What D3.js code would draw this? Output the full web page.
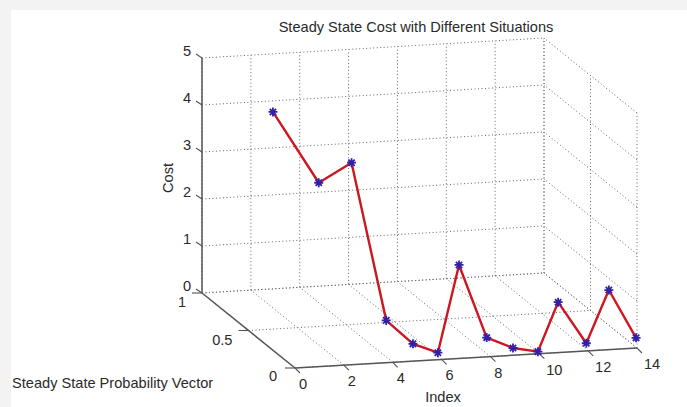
<!DOCTYPE html>
<html>
<head>
<meta charset="utf-8">
<script src="https://cdn.jsdelivr.net/npm/d3@7"></script>
<style>
  body { margin: 0; background: #fff; }
  text { font-family: "Liberation Sans", Arial, sans-serif; fill: #2a2a2a; }
</style>
</head>
<body>
<div id="chart"></div>
<script>
var svgWidth = 687;
var svgHeight = 407;

// data
var indexVals = [1, 2, 3, 4, 5, 6, 7, 8, 9, 10, 11, 12, 13, 14];
var probVals = [0.50, 0.27, 0.18, 0.07, 0.045, 0.04, 0.075, 0.04, 0.02, 0.015, 0.06, 0.02, 0.04, 0.01];
var costVals = [4.62, 3.45, 3.99, 0.78, 0.29, 0.08, 1.86, 0.34, 0.12, 0.02, 0.97, 0.13, 1.2, 0.2];

var xTicks = [0, 2, 4, 6, 8, 10, 12, 14];
var yTicks = [0, 0.5, 1];
var zTicks = [0, 1, 2, 3, 4, 5];

var titleText = "Steady State Cost with Different Situations";

var svg = d3.select("#chart")
  .append("svg")
  .attr("width", svgWidth)
  .attr("height", svgHeight);

// card background with soft gray border like the screenshot
svg.append("rect").attr("width", svgWidth).attr("height", svgHeight).attr("fill", "#f3f3f3");
svg.append("rect").attr("x", 11).attr("y", 10).attr("width", svgWidth - 11).attr("height", svgHeight - 10).attr("fill", "#fff");

// 3d axes -> unit cube -> screen
var xScale = d3.scaleLinear().domain([0, 14]).range([0, 1]);
var yScale = d3.scaleLinear().domain([0, 1]).range([0, 1]);
var zScale = d3.scaleLinear().domain([0, 5]).range([0, 1]);

var origin = [295, 368];
var ex = [342, -20];
var ey = [-93, -75];
var ez = [0, -235];

function proj(x, y, z) {
  var a = xScale(x), b = yScale(y), c = zScale(z);
  return [origin[0] + a * ex[0] + b * ey[0] + c * ez[0],
          origin[1] + a * ex[1] + b * ey[1] + c * ez[1]];
}

var g = svg.append("g");

function seg(p, q, cls) {
  var s = g.append("line")
    .attr("x1", p[0]).attr("y1", p[1])
    .attr("x2", q[0]).attr("y2", q[1]);
  if (cls == "grid") {
    s.attr("stroke", "#666").attr("stroke-width", 1).attr("stroke-dasharray", "1,2.5");
  } else {
    s.attr("stroke", "#555").attr("stroke-width", 1.5);
  }
  return s;
}

// grid: back wall (y = 1)
xTicks.forEach(function(x) { seg(proj(x, 1, 0), proj(x, 1, 5), "grid"); });
zTicks.forEach(function(z) { seg(proj(0, 1, z), proj(14, 1, z), "grid"); });
// grid: right wall (x = 14)
yTicks.forEach(function(y) { seg(proj(14, y, 0), proj(14, y, 5), "grid"); });
zTicks.forEach(function(z) { seg(proj(14, 0, z), proj(14, 1, z), "grid"); });
// grid: floor (z = 0)
xTicks.forEach(function(x) { seg(proj(x, 0, 0), proj(x, 1, 0), "grid"); });
yTicks.forEach(function(y) { seg(proj(0, y, 0), proj(14, y, 0), "grid"); });

// axis lines
seg(proj(0, 1, 0), proj(0, 1, 5), "axis");
seg(proj(0, 0, 0), proj(0, 1, 0), "axis");
seg(proj(0, 0, 0), proj(14, 0, 0), "axis");

var fs = 14.6;

// z ticks and labels
zTicks.forEach(function(z) {
  var p = proj(0, 1, z);
  seg(p, [p[0] - 6, p[1] - 4], "axis").attr("stroke-width", 1.1);
  g.append("text").attr("x", p[0] - 11).attr("y", p[1] - 2)
    .attr("text-anchor", "end").attr("font-size", fs).text(z);
});

// y ticks and labels
yTicks.forEach(function(y) {
  var p = proj(0, y, 0);
  seg(p, [p[0] - 10, p[1]], "axis").attr("stroke-width", 1.1);
});
g.append("text").attr("x", proj(0, 1, 0)[0] - 16).attr("y", proj(0, 1, 0)[1] + 14)
  .attr("text-anchor", "end").attr("font-size", fs).text("1");
g.append("text").attr("x", proj(0, 0.5, 0)[0] - 16).attr("y", proj(0, 0.5, 0)[1] + 14)
  .attr("text-anchor", "end").attr("font-size", fs).text("0.5");
g.append("text").attr("x", proj(0, 0, 0)[0] - 18).attr("y", proj(0, 0, 0)[1] + 13)
  .attr("text-anchor", "end").attr("font-size", fs).text("0");

// x ticks and labels
xTicks.forEach(function(x) {
  var p = proj(x, 0, 0);
  seg(p, [p[0] + 5, p[1] + 5], "axis").attr("stroke-width", 1.1);
  var label = String(x);
  g.append("text").attr("x", p[0] + 1 + 7 * label.length).attr("y", p[1] + 21)
    .attr("text-anchor", "middle").attr("font-size", fs).text(label);
});

// axis titles
g.append("text").attr("x", 443).attr("y", 402).attr("text-anchor", "middle")
  .attr("font-size", fs).text("Index");
g.append("text").attr("transform", "translate(173,178) rotate(-90)")
  .attr("text-anchor", "middle").attr("font-size", fs).text("Cost");
g.append("text").attr("x", 12).attr("y", 388)
  .attr("font-size", fs).text("Steady State Probability Vector");
g.append("text").attr("x", 416).attr("y", 32).attr("text-anchor", "middle")
  .attr("font-size", fs).text(titleText);

// data line
var pts = indexVals.map(function(d, i) { return proj(d, probVals[i], costVals[i]); });
var line = d3.line().x(function(d) { return d[0]; }).y(function(d) { return d[1]; });

g.append("path")
  .attr("d", line(pts))
  .attr("fill", "none")
  .attr("stroke", "#cc1620")
  .attr("stroke-width", 2.4)
  .attr("stroke-linejoin", "round");

// star markers
var star = g.selectAll(".star").data(pts).enter().append("g")
  .attr("class", "star")
  .attr("transform", function(d) { return "translate(" + d[0] + "," + d[1] + ")"; });
var r = 4.5;
star.append("path")
  .attr("d", "M" + (-r) + ",0L" + r + ",0M0," + (-r) + "L0," + r +
    "M" + (-r * 0.7) + "," + (-r * 0.7) + "L" + (r * 0.7) + "," + (r * 0.7) +
    "M" + (-r * 0.7) + "," + (r * 0.7) + "L" + (r * 0.7) + "," + (-r * 0.7))
  .attr("stroke", "#3020a8")
  .attr("stroke-width", 1.8);
</script>
</body>
</html>
